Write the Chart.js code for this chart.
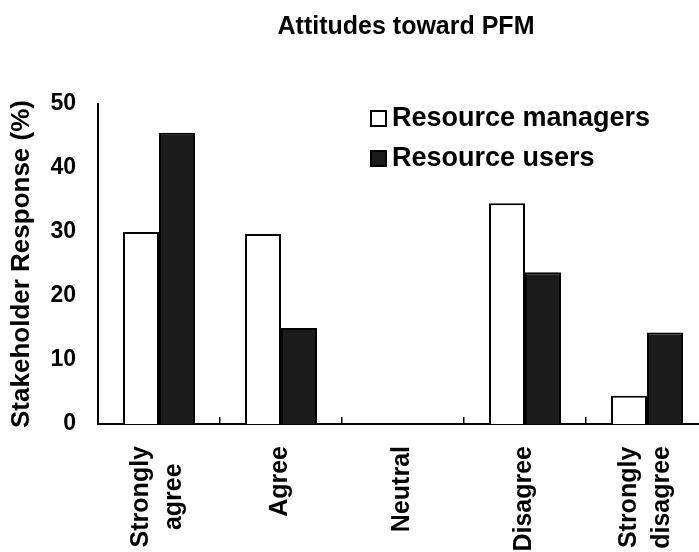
<!DOCTYPE html>
<html>
<head>
<meta charset="utf-8">
<script src="https://cdn.jsdelivr.net/npm/chart.js@4"></script>
<style>
  html, body { margin: 0; padding: 0; background: #fff; overflow: hidden; }
  /* the x axis runs off the right edge in the figure, so the plot is a little wider than the window */
  #wrap { position: relative; width: 708px; height: 552px; }
</style>
</head>
<body>
<div id="wrap"><canvas id="chart"></canvas></div>
<script>
// values
const categories = [['Strongly', 'agree'], 'Agree', 'Neutral', 'Disagree', ['Strongly', 'disagree']];
const managers = [30, 29.7, 0, 34.5, 4.4];
const users = [45.5, 15, 0, 23.7, 14.3];
const yTicks = [0, 10, 20, 30, 40, 50];
const chartTitle = 'Attitudes toward PFM';

const FONT = "'Liberation Sans', Arial, sans-serif";
Chart.defaults.color = '#000';
Chart.defaults.font.family = FONT;
Chart.defaults.font.weight = 'bold';

// title centred over the plot, as in the figure
const titlePlugin = {
    id: 'plotTitle',
    afterDraw(chart) {
        const { ctx, chartArea } = chart;
        ctx.save();
        ctx.font = 'bold 25px ' + FONT;
        ctx.fillStyle = '#000';
        ctx.textAlign = 'center';
        ctx.textBaseline = 'middle';
        ctx.fillText(chartTitle, (chartArea.left + chartArea.right) / 2 + 3, 27);
        ctx.restore();
    }
};

// legend drawn inside the plot, top right
const boxLegend = {
    id: 'boxLegend',
    afterDraw(chart) {
        const { ctx, chartArea } = chart;
        const x = chartArea.left + 273, y0 = chartArea.top + 14;
        ctx.save();
        ctx.font = 'bold 27px ' + FONT;
        ctx.textBaseline = 'middle';
        chart.data.datasets.forEach((ds, i) => {
            const y = y0 + i * 40;
            ctx.fillStyle = ds.backgroundColor;
            ctx.fillRect(x, y - 7, 15, 15);
            ctx.strokeStyle = '#000';
            ctx.lineWidth = 2;
            ctx.strokeRect(x, y - 7, 15, 15);
            ctx.fillStyle = '#000';
            ctx.fillText(ds.label, x + 21, y + 1);
        });
        ctx.restore();
    }
};

// vertical category labels; two-line labels centred on each other
const xLabels = {
    id: 'xLabels',
    afterDraw(chart) {
        const { ctx } = chart;
        const xs = chart.scales.x;
        const lh = 33;
        ctx.save();
        ctx.font = 'bold 25px ' + FONT;
        ctx.fillStyle = '#000';
        ctx.textAlign = 'center';
        ctx.textBaseline = 'middle';
        xs.getLabels().forEach((lab, i) => {
            const lines = [].concat(lab);
            const w = Math.max(...lines.map(l => ctx.measureText(l).width));
            ctx.save();
            ctx.translate(xs.getPixelForTick(i) - 1, xs.top + 22 + w / 2);
            ctx.rotate(-Math.PI / 2);
            lines.forEach((l, k) => ctx.fillText(l, 0, (k - (lines.length - 1) / 2) * lh));
            ctx.restore();
        });
        ctx.restore();
    }
};

new Chart(document.getElementById('chart'), {
    type: 'bar',
    data: {
        labels: categories,
        datasets: [
            { label: 'Resource managers', data: managers, backgroundColor: '#ffffff', borderColor: '#000', borderWidth: 2 },
            { label: 'Resource users', data: users, backgroundColor: '#1b1b1b', borderColor: '#000', borderWidth: 2 }
        ]
    },
    options: {
        responsive: true,
        maintainAspectRatio: false,
        animation: false,
        layout: { padding: { top: 104, right: 0, left: 0, bottom: 0 } },
        datasets: { bar: { categoryPercentage: 0.59, barPercentage: 1.0 } },
        plugins: { legend: { display: false }, title: { display: false }, tooltip: { enabled: false } },
        scales: {
            x: {
                offset: true,
                grid: { display: true, drawOnChartArea: false, offset: true, tickLength: -7, color: '#000', lineWidth: 1.5 },
                border: { display: true, color: '#000', width: 2 },
                ticks: { display: false },
                afterFit(scale) {
                    scale.height = 128;
                    scale.paddingLeft = 0;
                    scale.paddingRight = 0;
                }
            },
            y: {
                min: 0,
                max: 50,
                afterBuildTicks(scale) { scale.ticks = yTicks.map(v => ({ value: v })); },
                grid: { display: false, drawTicks: false },
                border: { display: true, color: '#000', width: 2 },
                ticks: { padding: 22, font: { size: 23, weight: 'bold' }, color: '#000' },
                title: { display: true, text: 'Stakeholder Response (%)', font: { size: 26, weight: 'bold' }, color: '#000', padding: { top: 6, bottom: 0 } },
                afterFit(scale) {
                    scale.width = 98;
                    scale.paddingTop = 0;
                    scale.paddingBottom = 0;
                }
            }
        }
    },
    plugins: [titlePlugin, boxLegend, xLabels]
});
</script>
</body>
</html>
